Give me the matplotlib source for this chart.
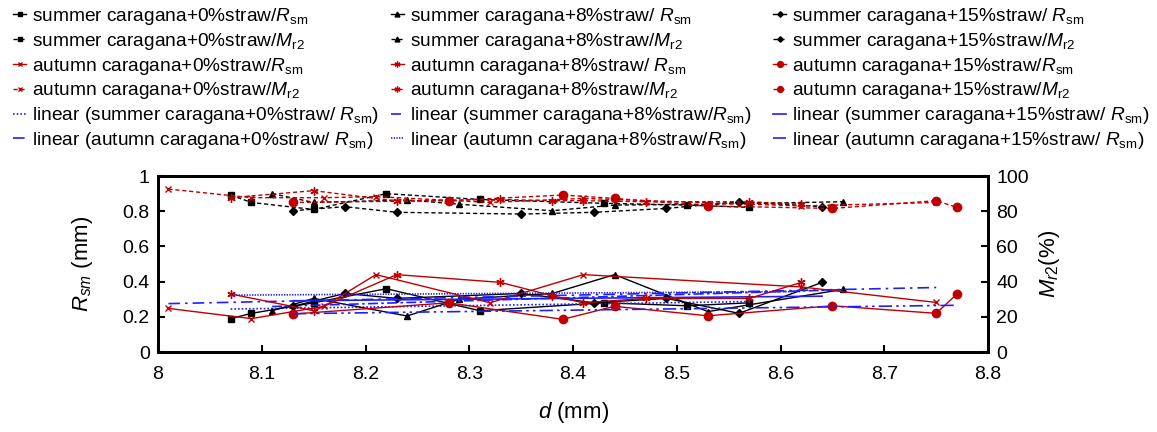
import numpy as np
import matplotlib
matplotlib.use("Agg")
import matplotlib.pyplot as plt

plt.rcParams['font.family'] = ['Liberation Sans', 'DejaVu Sans']
plt.rcParams['mathtext.fontset'] = 'custom'
plt.rcParams['mathtext.rm'] = 'Liberation Sans'
plt.rcParams['mathtext.it'] = 'Liberation Sans:italic'

# d (mm) for each series, R_sm (mm) and M_r2 (%)
x_s0 = [8.07, 8.09, 8.15, 8.22, 8.31, 8.43, 8.51, 8.57]
rsm_s0 = [0.19, 0.22, 0.28, 0.36, 0.235, 0.28, 0.263, 0.28]
mr2_s0 = [89.2, 85.0, 81.0, 90.0, 86.7, 84.5, 83.5, 82.2]

x_s8 = [8.11, 8.15, 8.24, 8.29, 8.38, 8.44, 8.53, 8.66]
rsm_s8 = [0.235, 0.305, 0.205, 0.30, 0.333, 0.44, 0.23, 0.356]
mr2_s8 = [90.0, 85.0, 86.4, 84.0, 80.3, 83.5, 84.0, 85.4]

x_s15 = [8.13, 8.18, 8.23, 8.35, 8.42, 8.49, 8.56, 8.64]
rsm_s15 = [0.26, 0.333, 0.305, 0.333, 0.28, 0.305, 0.22, 0.396]
mr2_s15 = [80.3, 82.6, 79.4, 78.4, 79.4, 81.6, 85.4, 82.6]

x_a0 = [8.01, 8.09, 8.16, 8.21, 8.32, 8.41, 8.62, 8.75]
rsm_a0 = [0.248, 0.19, 0.26, 0.44, 0.28, 0.44, 0.37, 0.282]
mr2_a0 = [92.6, 87.7, 87.7, 88.3, 85.0, 87.3, 83.0, 85.0]

x_a8 = [8.07, 8.15, 8.23, 8.33, 8.38, 8.41, 8.47, 8.57, 8.62]
rsm_a8 = [0.33, 0.235, 0.44, 0.396, 0.32, 0.28, 0.305, 0.305, 0.396]
mr2_a8 = [87.7, 91.7, 85.8, 86.7, 86.0, 86.0, 85.4, 85.4, 84.0]

x_a15 = [8.13, 8.28, 8.39, 8.44, 8.53, 8.65, 8.75, 8.77]
rsm_a15 = [0.216, 0.28, 0.186, 0.26, 0.206, 0.263, 0.22, 0.33]
mr2_a15 = [85.0, 86.0, 89.2, 87.3, 83.0, 81.6, 86.0, 82.2]

RED = '#c00000'
BLUE = '#2020ff'

fig = plt.figure(figsize=(11.57, 4.32), dpi=100)
ax = fig.add_axes([0.1366, 0.185, 0.854 - 0.1366, 0.4075])
ax2 = ax.twinx()

series = [
    ('summer', '0%', x_s0, rsm_s0, mr2_s0, 'k', 's', 4.5, (0, (1, 1.2))),
    ('summer', '8%', x_s8, rsm_s8, mr2_s8, 'k', '^', 5, (0, (6, 2, 1.5, 2))),
    ('summer', '15%', x_s15, rsm_s15, mr2_s15, 'k', 'D', 4, '-'),
    ('autumn', '0%', x_a0, rsm_a0, mr2_a0, RED, 'x', 5, (0, (7, 3, 1.5, 3))),
    ('autumn', '8%', x_a8, rsm_a8, mr2_a8, RED, (6, 2, 0), 6, (0, (0.8, 0.8))),
    ('autumn', '15%', x_a15, rsm_a15, mr2_a15, RED, 'o', 6, (0, (8, 2.5, 1.5, 2.5, 1.5, 2.5))),
]

handles = {}
for season, pct, xs, rs, ms, col, mk, msz, tls in series:
    h1, = ax.plot(xs, rs, color=col, lw=1, marker=mk, ms=msz, mew=1)
    h2, = ax2.plot(xs, ms, color=col, lw=1, ls=(0, (3, 2)), marker=mk, ms=msz, mew=1)
    k = np.polyfit(xs, rs, 1)
    xx = np.array([min(xs), max(xs)])
    h3, = ax.plot(xx, np.polyval(k, xx), color=BLUE, lw=1.2, ls=tls)
    handles[(season, pct)] = (h1, h2, h3)

ax.set_xlim(8, 8.8)
ax.set_ylim(0, 1)
ax2.set_ylim(0, 100)
ax.set_xticks(np.arange(8, 8.81, 0.1))
ax.set_xticklabels(['8', '8.1', '8.2', '8.3', '8.4', '8.5', '8.6', '8.7', '8.8'])
ax.set_yticks(np.arange(0, 1.01, 0.2))
ax.set_yticklabels(['0', '0.2', '0.4', '0.6', '0.8', '1'])
ax2.set_yticks(range(0, 101, 20))

for a in (ax, ax2):
    a.tick_params(direction='in', width=1.5, length=5, labelsize=14, pad=6)
    for s in a.spines.values():
        s.set_linewidth(2)
ax.tick_params(axis='x', pad=10)

ax.set_xlabel('$d$ (mm)', fontsize=16, labelpad=12)
ax.set_ylabel('$R_{sm}$ (mm)', fontsize=16, labelpad=20)
ax2.set_ylabel('$M_{r2}$(%)', fontsize=16, labelpad=6)

sp = {('summer', '0%', 1): '/', ('summer', '8%', 1): '/ ', ('summer', '15%', 1): '/ ',
      ('autumn', '8%', 1): '/ ', ('summer', '0%', 3): '/ ', ('autumn', '0%', 3): '/ ',
      ('summer', '15%', 3): '/ ', ('autumn', '15%', 3): '/ '}

col_x = [0.0095, 0.336, 0.6664]
for ci, pct in enumerate(['0%', '8%', '15%']):
    hs, labels = [], []
    for season in ['summer', 'autumn']:
        h1, h2, h3 = handles[(season, pct)]
        hs += [h1, h2]
        labels += [season + ' caragana+' + pct + 'straw' + sp.get((season, pct, 1), '/') + r'$R_{\mathrm{sm}}$',
                   season + ' caragana+' + pct + r'straw/$M_{\mathrm{r2}}$']
    for season in ['summer', 'autumn']:
        hs.append(handles[(season, pct)][2])
        labels.append('linear (' + season + ' caragana+' + pct + 'straw'
                      + sp.get((season, pct, 3), '/') + r'$R_{\mathrm{sm}}$)')
    fig.legend(hs, labels, loc='upper left', bbox_to_anchor=(col_x[ci], 1.0 - 4 / 432),
               frameon=False, fontsize=13.8, handlelength=0.7, handletextpad=0.3,
               labelspacing=0.2, borderpad=0.1, borderaxespad=0, markerscale=0.7)

fig.savefig('out.png', dpi=100)
